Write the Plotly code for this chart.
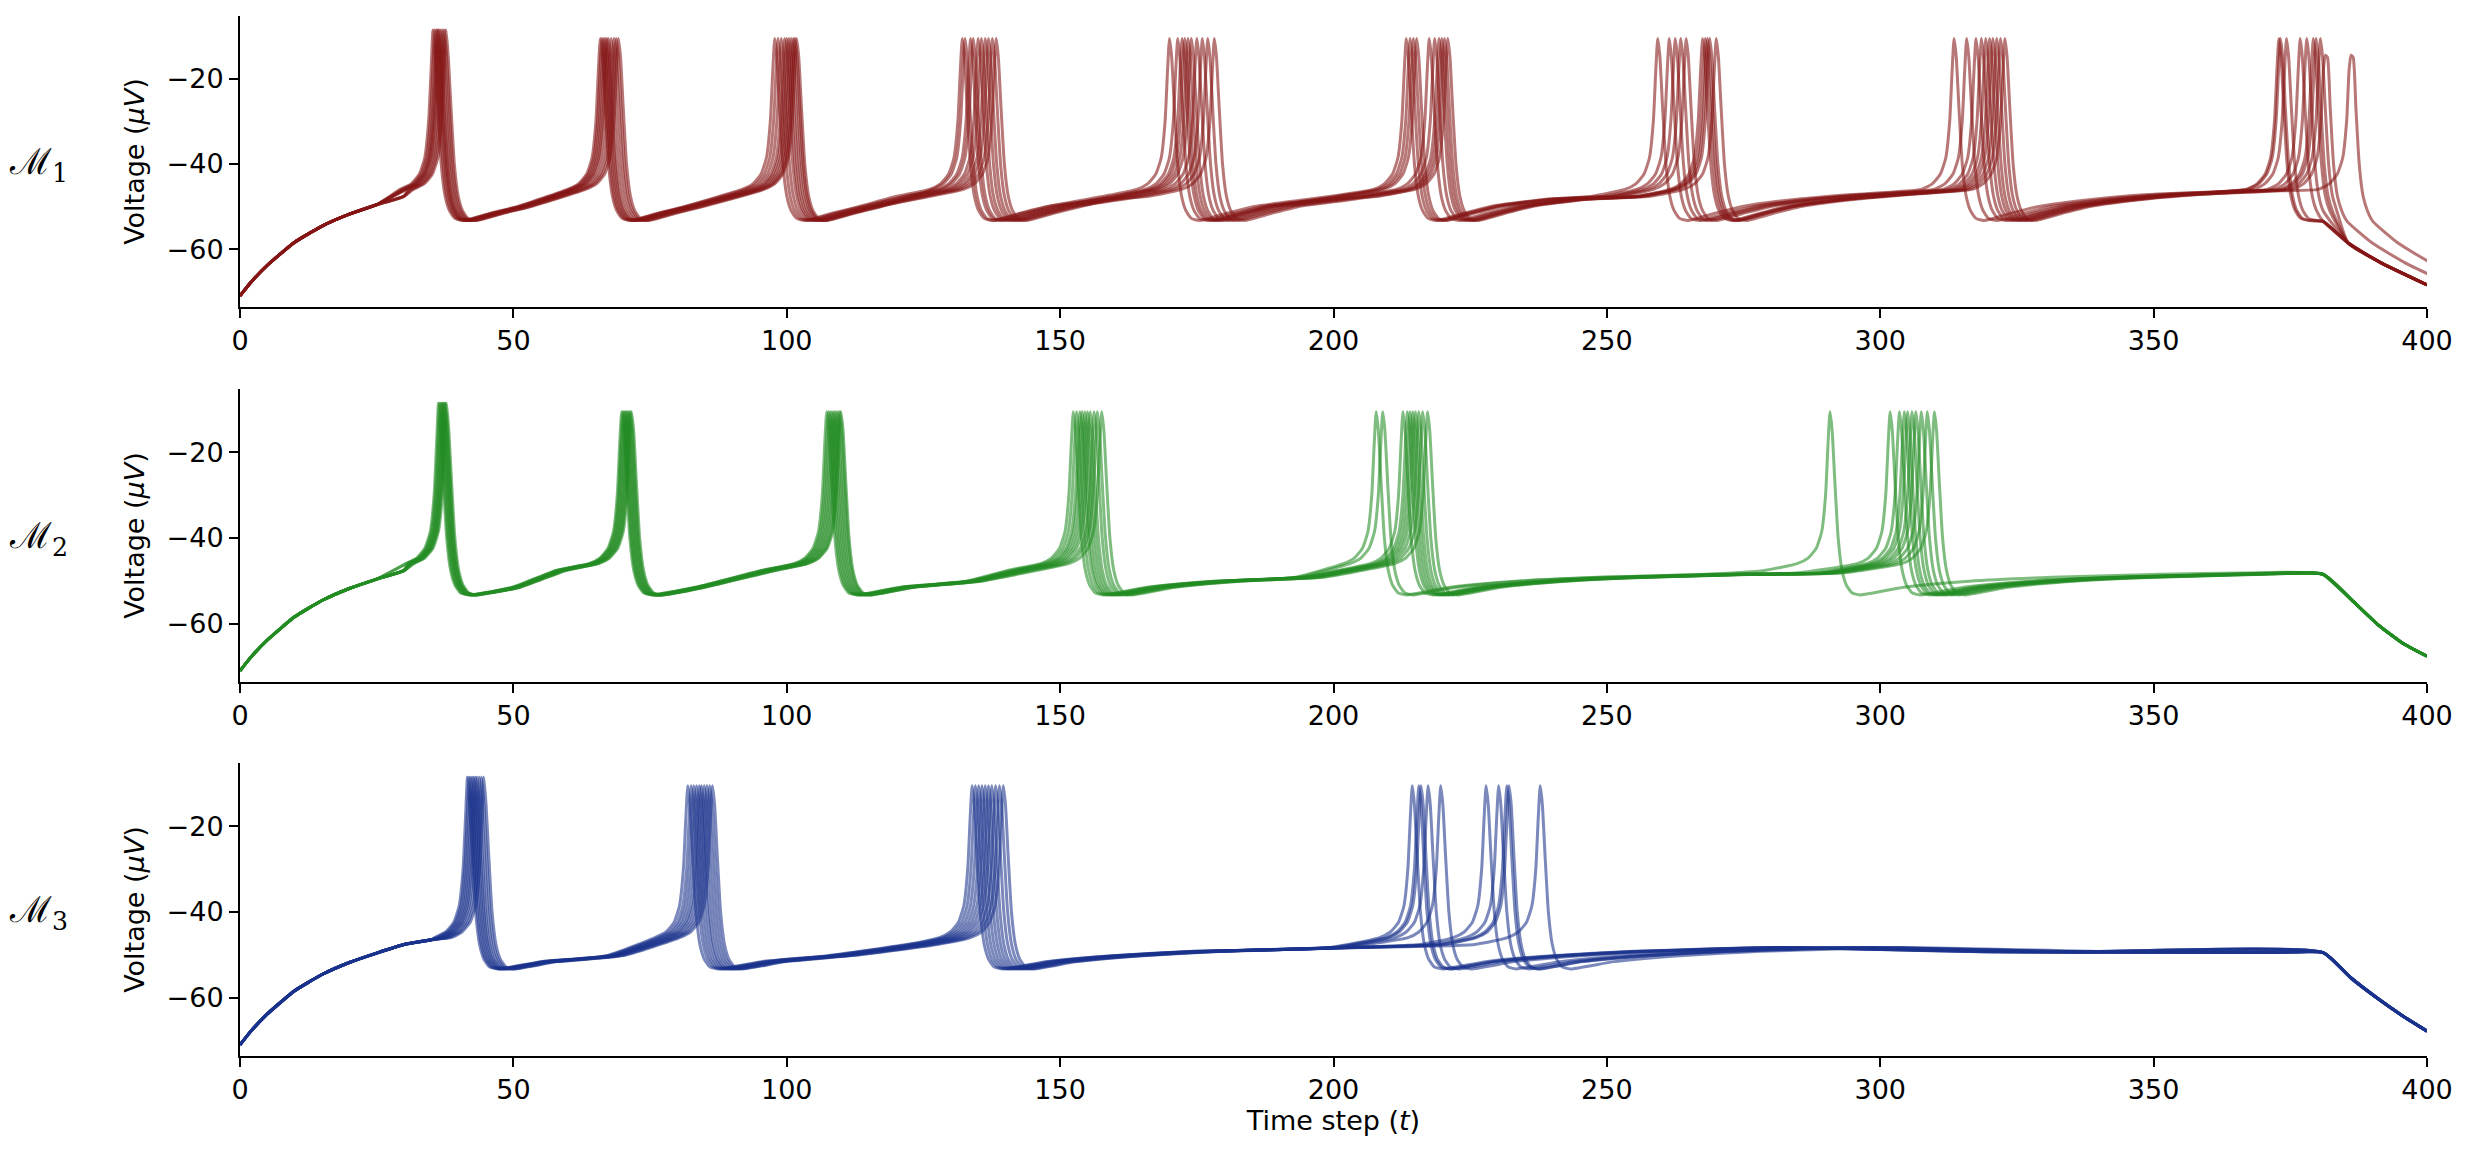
import plotly.graph_objects as go
from plotly.subplots import make_subplots

# membrane traces: spike times per cluster, one entry per trace (10 traces per model)
RED_CLUSTERS = [
    [35.3, 35.6, 35.9, 36.1, 36.3, 36.5, 36.8, 37.1, 37.4, 37.7],
    [65.9, 66.5, 66.2, 67.1, 66.8, 67.9, 67.4, 68.4, 68.8, 69.2],
    [97.8, 99.0, 98.4, 100.0, 99.6, 100.8, 100.4, 101.2, 101.5, 101.8],
    [132.1, 134.1, 133.6, 135.6, 135.0, 136.3, 136.9, 137.6, 138.3, 132.6],
    [170.0, 172.8, 171.5, 174.0, 172.3, 175.0, 176.0, 177.0, 173.4, 178.2],
    [213.3, 215.2, 214.0, 217.5, 214.6, 218.5, 219.3, 219.8, 220.3, 220.9],
    [259.3, 263.5, 261.4, 264.5, 262.5, 267.5, 268.0, 268.4, 268.8, 270.0],
    [313.5, 318.5, 315.8, 319.3, 317.5, 320.0, 320.6, 321.3, 322.0, 322.8],
    [372.9, 378.0, 373.2, 379.2, 374.3, 379.7, 376.8, 380.5, 381.4, 386.1],
]
GREEN_CLUSTERS = [
    [36.3, 36.7, 36.5, 37.0, 36.9, 37.3, 37.2, 37.6, 37.5, 37.8],
    [69.8, 70.2, 70.0, 70.6, 70.4, 71.0, 70.8, 71.4, 71.2, 71.6],
    [107.3, 107.9, 107.6, 108.5, 108.2, 109.1, 108.8, 109.7, 109.4, 109.9],
    [152.4, 153.6, 153.0, 154.5, 154.0, 155.5, 155.0, 156.8, 156.2, 157.6],
    [207.8, 213.5, 209.0, 214.5, 212.7, 215.6, 214.0, 216.3, 215.0, 217.2],
    [290.8, 304.4, 301.8, 305.8, 303.5, 307.5, 305.0, 308.6, 306.5, 309.9],
]
BLUE_CLUSTERS = [
    [41.6, 42.2, 41.9, 42.8, 42.5, 43.4, 43.1, 44.2, 43.8, 44.6],
    [81.9, 83.0, 82.5, 84.0, 83.5, 84.9, 84.4, 85.9, 85.4, 86.4],
    [133.9, 135.1, 134.5, 136.3, 135.7, 137.5, 136.9, 138.9, 138.2, 139.6],
    [214.4, 216.0, 215.6, 219.6, 217.3, 230.2, 227.9, 232.1, 231.7, 237.8],
]

# shared waveform pieces
INIT_T = [0, 2, 5, 10, 15, 20, 25, 30, 35]
INIT_V = [-71.0, -67.8, -63.8, -58.4, -54.6, -51.8, -49.6, -47.6, -46.5]
APPROACH_DT = -12
APPROACH_V = -47.6
PRE_DT = [-6, -4, -2.5, -1.5, -0.8, -0.35]
PRE_V = [-46.0, -44.7, -42.4, -38.5, -30.0, -18.0]
FALL_DT = [0.4, 0.9, 1.5, 2.2, 3.0, 4.0, 5.5]
FALL_V = [-15.0, -27.0, -40.0, -47.5, -51.0, -52.8, -53.3]
PEAK_FIRST = -8.6
PEAK_LATER = -10.6
PEAK_LATE = -14.5
STIM_OFF = 381

RED_RAMP_D = [0, 5, 10, 20, 30, 40, 50]
RED_RAMP_V = [-53.3, -51.6, -50.0, -48.3, -47.2, -46.4, -45.8]
GREEN_RAMP_D = [0, 8, 20, 35, 55, 70]
GREEN_RAMP_V = [-53.3, -51.5, -50.1, -49.2, -48.5, -48.2]
BLUE_RAMP_D = [0, 8, 20, 35, 60, 100, 150]
BLUE_RAMP_V = [-53.4, -51.6, -50.2, -49.2, -48.3, -49.3, -49.5]

RED_DECAY_D = [0, 4.6, 10.7, 19]
RED_DECAY_V = [-53.5, -58.6, -63.3, -68.4]
GREEN_DECAY_D = [0, 5.5, 10, 14.5, 19]
GREEN_DECAY_V = [-48.5, -54.8, -60.2, -64.5, -67.6]
BLUE_DECAY_D = [0, 5, 10, 14.5, 19]
BLUE_DECAY_V = [-49.5, -55.3, -60.2, -64.2, -67.8]

PANELS = [
    ("ℳ<sub>1</sub>", RED_CLUSTERS, RED_RAMP_D, RED_RAMP_V, RED_DECAY_D, RED_DECAY_V, "rgba(132,20,20,0.58)"),
    ("ℳ<sub>2</sub>", GREEN_CLUSTERS, GREEN_RAMP_D, GREEN_RAMP_V, GREEN_DECAY_D, GREEN_DECAY_V, "rgba(34,139,34,0.58)"),
    ("ℳ<sub>3</sub>", BLUE_CLUSTERS, BLUE_RAMP_D, BLUE_RAMP_V, BLUE_DECAY_D, BLUE_DECAY_V, "rgba(25,50,140,0.58)"),
]


def build_trace(spikes, ramp_d, ramp_v, decay_d, decay_v):
    t, v = [], []
    for ti, vi in zip(INIT_T, INIT_V):
        if ti < spikes[0] - 6.5:
            t.append(ti)
            v.append(vi)
    for k, s in enumerate(spikes):
        if k > 0:
            trough = spikes[k - 1] + FALL_DT[-1]
            span = (s - 6) - trough
            last_v = FALL_V[-1]
            for d, rv in zip(ramp_d[1:], ramp_v[1:]):
                if d < span - 8 and rv < PRE_V[0]:
                    t.append(trough + d)
                    v.append(rv)
                    last_v = rv
            # long quiet stretch: add the slow approach before the upstroke
            if s + APPROACH_DT > t[-1] + 6 and APPROACH_V > last_v:
                t.append(s + APPROACH_DT)
                v.append(APPROACH_V)
        for dt, pv in zip(PRE_DT, PRE_V):
            t.append(s + dt)
            v.append(pv)
        if k == 0:
            peak = PEAK_FIRST
        elif s > STIM_OFF:
            peak = PEAK_LATE
        else:
            peak = PEAK_LATER
        t.append(s)
        v.append(peak)
        if k < len(spikes) - 1:
            for dt, fv in zip(FALL_DT, FALL_V):
                t.append(s + dt)
                v.append(fv)
            continue
        # last spike: settle, then decay once the input is switched off
        if s + FALL_DT[-1] <= STIM_OFF:
            for dt, fv in zip(FALL_DT, FALL_V):
                t.append(s + dt)
                v.append(fv)
            trough = s + FALL_DT[-1]
            for d, rv in zip(ramp_d[1:], ramp_v[1:]):
                if trough + d < STIM_OFF - 1:
                    t.append(trough + d)
                    v.append(rv)
            for d, dv in zip(decay_d, decay_v):
                t.append(STIM_OFF + d)
                v.append(dv)
        elif s <= STIM_OFF:
            for dt, fv in zip(FALL_DT, FALL_V):
                if dt <= 3.0:
                    t.append(s + dt)
                    v.append(fv)
            for d, dv in zip(decay_d, decay_v):
                if STIM_OFF + d > s + 4:
                    t.append(STIM_OFF + d)
                    v.append(dv)
        else:
            for dt, fv in zip(FALL_DT, FALL_V):
                if dt <= 3.0:
                    t.append(s + dt)
                    v.append(fv)
            for d, dv in zip(decay_d, decay_v):
                t.append(s + 4 + d)
                v.append(dv)
    return t, v


fig = make_subplots(rows=3, cols=1, vertical_spacing=0.0)

domains = [[0.7202, 1.0], [0.3596, 0.6413], [0.0, 0.2817]]

for row, (label, clusters, rd, rv, dd, dv, color) in enumerate(PANELS, start=1):
    n_traces = len(clusters[0])
    for i in range(n_traces):
        spikes = [c[i] for c in clusters]
        t, v = build_trace(spikes, rd, rv, dd, dv)
        fig.add_trace(go.Scatter(x=t, y=v, mode="lines",
                                 line=dict(color=color, width=3, shape="spline", smoothing=0.5),
                                 showlegend=False, hoverinfo="skip"),
                      row=row, col=1)
    fig.add_annotation(text=label, xref="paper", x=-0.092, xanchor="center",
                       yref="y%s domain" % ("" if row == 1 else row), y=0.49, yanchor="middle",
                       showarrow=False, font=dict(size=36, family="DejaVu Serif", color="black"))

axis_style = dict(showgrid=False, zeroline=False, showline=True, linecolor="black", linewidth=2,
                  ticks="outside", ticklen=9, tickwidth=2, tickcolor="black",
                  tickfont=dict(size=27, family="DejaVu Sans", color="black"))

for row in range(1, 4):
    fig.update_xaxes(range=[0, 400], tickvals=[0, 50, 100, 150, 200, 250, 300, 350, 400],
                     row=row, col=1, **axis_style)
    fig.update_yaxes(range=[-73.6, -5.3], tickvals=[-60, -40, -20],
                     ticktext=["−60", "−40", "−20"],
                     title=dict(text="Voltage (<i>μV</i>)", standoff=14,
                                font=dict(size=27, family="DejaVu Sans", color="black")),
                     domain=domains[row - 1], row=row, col=1, **axis_style)

fig.update_xaxes(title=dict(text="Time step (<i>t</i>)", standoff=4,
                            font=dict(size=27, family="DejaVu Sans", color="black")),
                 row=3, col=1)

# the page body adds an 8px margin, so the figure is 16px smaller than the window
fig.update_layout(width=2455, height=1138, plot_bgcolor="white", paper_bgcolor="white",
                  margin=dict(l=232, r=36, t=8, b=90))

fig.write_html("out.html")
